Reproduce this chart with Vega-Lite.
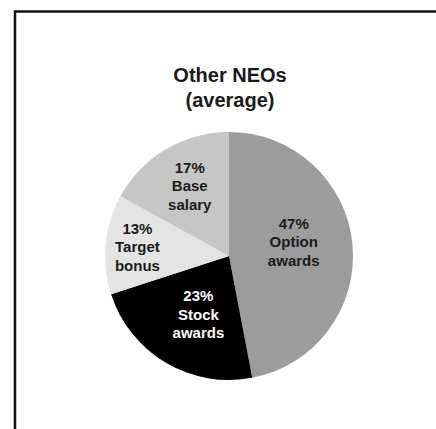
{
  "$schema": "https://vega.github.io/schema/vega-lite/v6.json",
  "width": 425,
  "height": 421.5,
  "autosize": {"type": "none"},
  "padding": {"left": 15, "top": 11.5, "right": -4, "bottom": -4},
  "background": "white",
  "config": {
    "view": {"stroke": "#111111", "strokeWidth": 2.5, "strokeDash": [425, 846.5, 431.5], "fill": "white"}
  },
  "title": {
    "text": ["Other NEOs", "(average)"],
    "font": "Liberation Sans",
    "fontWeight": "bold",
    "fontSize": 20,
    "lineHeight": 25,
    "color": "#1a1a1a",
    "anchor": "start",
    "align": "center",
    "frame": "group",
    "baseline": "top",
    "offset": -99.5,
    "dx": 215
  },
  "data": {
    "values": [
      {"category": "Option awards", "share": 47, "order": 1, "label": "47%\nOption\nawards"},
      {"category": "Stock awards", "share": 23, "order": 2, "label": "23%\nStock\nawards"},
      {"category": "Target bonus", "share": 13, "order": 3, "label": "13%\nTarget\nbonus"},
      {"category": "Base salary", "share": 17, "order": 4, "label": "17%\nBase\nsalary"}
    ]
  },
  "encoding": {
    "theta": {"field": "share", "type": "quantitative", "stack": true},
    "order": {"field": "order", "type": "quantitative"},
    "x": {"value": 214},
    "y": {"value": 244.5}
  },
  "layer": [
    {
      "mark": {"type": "arc", "outerRadius": 124},
      "encoding": {
        "color": {
          "field": "category",
          "type": "nominal",
          "scale": {
            "domain": ["Option awards", "Stock awards", "Target bonus", "Base salary"],
            "range": ["#9c9c9c", "#000000", "#e4e4e4", "#c6c6c6"]
          },
          "legend": null
        }
      }
    },
    {
      "mark": {
        "type": "text",
        "font": "Liberation Sans",
        "fontWeight": "bold",
        "fontSize": 15,
        "lineHeight": 18.5,
        "lineBreak": "\n",
        "dy": {"expr": "datum.category === 'Option awards' ? -26 : -18.5"},
        "dx": {"expr": "datum.category === 'Stock awards' ? 4 : datum.category === 'Base salary' ? 2 : 0"},
        "radius": {"expr": "datum.category === 'Target bonus' ? 92 : datum.category === 'Base salary' ? 81 : datum.category === 'Stock awards' ? 68 : 65"}
      },
      "encoding": {
        "text": {"field": "label", "type": "nominal"},
        "color": {
          "condition": {"test": "datum.category === 'Stock awards'", "value": "#ffffff"},
          "value": "#1a1a1a"
        }
      }
    }
  ]
}
